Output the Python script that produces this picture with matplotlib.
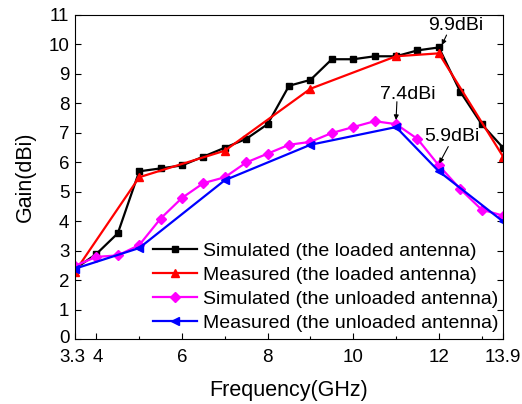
import matplotlib
matplotlib.use("Agg")
import matplotlib.pyplot as plt
from matplotlib.ticker import FixedLocator
from matplotlib.transforms import ScaledTranslation

plt.rcParams['font.family'] = ['Liberation Sans', 'DejaVu Sans']

# Data
freq_sim = [3.5, 4.0, 4.5, 5.0, 5.5, 6.0, 6.5, 7.0, 7.5, 8.0, 8.5, 9.0, 9.5,
            10.0, 10.5, 11.0, 11.5, 12.0, 12.5, 13.0, 13.5]
gain_sim_loaded = [2.4, 2.9, 3.6, 5.7, 5.8, 5.9, 6.2, 6.5, 6.8, 7.3, 8.6, 8.8, 9.5,
                   9.5, 9.6, 9.6, 9.8, 9.9, 8.4, 7.3, 6.5]
gain_sim_unloaded = [2.5, 2.8, 2.85, 3.2, 4.1, 4.8, 5.3, 5.5, 6.0, 6.3, 6.6, 6.7, 7.0,
                     7.2, 7.4, 7.3, 6.8, 5.9, 5.1, 4.4, 4.2]
freq_meas = [3.5, 5.0, 7.0, 9.0, 11.0, 12.0, 13.5]
gain_meas_loaded = [2.3, 5.5, 6.4, 8.5, 9.6, 9.7, 6.2]
gain_meas_unloaded = [2.4, 3.1, 5.4, 6.6, 7.2, 5.7, 4.0]

labels = ["Simulated (the loaded antenna)", "Measured (the loaded antenna)",
          "Simulated (the unloaded antenna)", "Measured (the unloaded antenna)"]

xtick_pos = [3.5, 4, 6, 8, 10, 12, 13.5]
xtick_labels = ["3.3", "4", "6", "8", "10", "12", "13.9"]

fig = plt.figure(figsize=(5.22, 4.04), dpi=100)
ax = fig.add_axes([0.1437, 0.1597, 0.82, 0.8032])

ax.plot(freq_sim, gain_sim_loaded, color='black', marker='s', ms=5, lw=1.6, label=labels[0])
ax.plot(freq_meas, gain_meas_loaded, color='#ff0000', marker='^', ms=6, lw=1.6, label=labels[1])
ax.plot(freq_sim, gain_sim_unloaded, color='#ff00ff', marker='D', ms=5, lw=1.6, label=labels[2])
ax.plot(freq_meas, gain_meas_unloaded, color='#0000ff', marker='<', ms=6, lw=1.6, label=labels[3])

ax.set_xlim(3.5, 13.5)
ax.set_ylim(0, 11)
ax.xaxis.set_major_locator(FixedLocator(xtick_pos))
ax.set_xticklabels(xtick_labels)
ax.xaxis.set_minor_locator(FixedLocator([5, 7, 9, 11, 13]))
ax.set_yticks(range(0, 12))

ax.tick_params(axis='both', which='major', direction='in', length=4, width=0.8, labelsize=13.5)
ax.tick_params(axis='x', which='major', pad=7)
ax.tick_params(axis='x', which='minor', direction='in', length=2.5, width=0.8)
ax.tick_params(axis='y', right=True, pad=4)
for s in ax.spines.values():
    s.set_linewidth(0.8)

# small nudges so the crowded corner labels do not collide
xl = ax.get_xticklabels()
xl[0].set_transform(xl[0].get_transform() + ScaledTranslation(-3 / 100, 0, fig.dpi_scale_trans))
xl[1].set_transform(xl[1].get_transform() + ScaledTranslation(1 / 100, 0, fig.dpi_scale_trans))
yl = ax.get_yticklabels()
yl[0].set_transform(yl[0].get_transform() + ScaledTranslation(0, 3 / 100, fig.dpi_scale_trans))

ax.set_xlabel("Frequency(GHz)", fontsize=15.5, labelpad=10)
ax.set_ylabel("Gain(dBi)", fontsize=15.5, labelpad=9)

# annotations
ann = [("9.9dBi", (12.40, 10.63), (12.18, 10.32), (12.07, 9.98)),
       ("7.4dBi", (11.27, 8.31), (11.02, 8.06), (11.0, 7.44)),
       ("5.9dBi", (12.30, 6.87), (12.22, 6.54), (12.01, 5.97))]
for txt, tpos, tail, tip in ann:
    ax.text(tpos[0], tpos[1], txt, fontsize=14, ha='center', va='center')
    ax.annotate('', xy=tip, xytext=tail,
                arrowprops=dict(arrowstyle='-|>', color='black', lw=0.8, mutation_scale=7,
                                shrinkA=0, shrinkB=0))

ax.legend(loc='upper left', bbox_to_anchor=(0.182, 0.30), frameon=False, fontsize=14,
          handlelength=2.27, handletextpad=0.3, labelspacing=0.33, borderpad=0, borderaxespad=0)

fig.savefig("out.png", dpi=100)
